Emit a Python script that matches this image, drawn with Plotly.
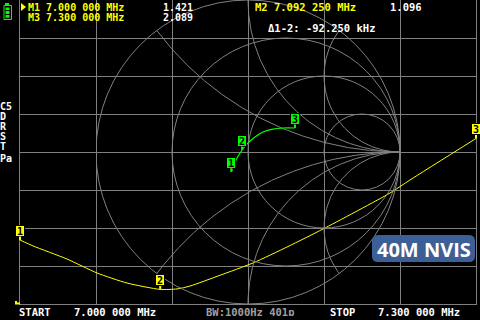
import numpy as np
import plotly.graph_objects as go

W, H = 480, 320

# SWR trace (yellow), frequency in MHz
freq_mhz = [7.000, 7.0086, 7.0309, 7.0507, 7.0704, 7.09225, 7.1033, 7.1118,
            7.1316, 7.1533, 7.1763, 7.1993, 7.2434, 7.2566, 7.300]
swr = [1.421, 1.382, 1.296, 1.204, 1.138, 1.096, 1.099, 1.118,
       1.189, 1.270, 1.378, 1.493, 1.730, 1.816, 2.089]

# Smith chart trace (green), reflection coefficient
gamma_re = [-0.110, -0.072, -0.039, 0.000, 0.046, 0.099, 0.164, 0.230, 0.309]
gamma_im = [-0.130, -0.039, 0.013, 0.059, 0.099, 0.132, 0.151, 0.158, 0.158]

marker_labels = ["1", "2", "3"]
marker_freq = [7.000, 7.09225, 7.300]
marker_swr = [1.421, 1.096, 2.089]
marker_smith_idx = [0, 2, 8]

GRID = "#808080"
YEL = "#ffff00"
GRN = "#00ff00"
MONO = "DejaVu Sans Mono"


def px(x):
    return x / W


def py(y):
    return 1 - y / H


fig = go.Figure()

# ---- Smith chart grid: constant reactance arcs (clipped to unit circle) ----
t = np.linspace(0, 2 * np.pi, 1441)
for xr in [0.5, 1.0, 2.0]:
    for s in [1, -1]:
        cx, cy, r = 1.0, s / xr, 1.0 / xr
        ax_ = cx + r * np.cos(t)
        ay_ = cy + r * np.sin(t)
        m = ax_ ** 2 + ay_ ** 2 <= 1.0 + 1e-9
        ax_ = np.where(m, ax_, np.nan)
        ay_ = np.where(m, ay_, np.nan)
        fig.add_trace(go.Scatter(x=ax_, y=ay_, xaxis="x2", yaxis="y2", mode="lines",
                                 line=dict(color=GRID, width=1), hoverinfo="skip",
                                 showlegend=False, connectgaps=False))

# constant resistance circles
shapes = []
for rr in [0.0, 1 / 3, 1.0, 3.0]:
    c = rr / (1 + rr)
    rad = 1 / (1 + rr)
    shapes.append(dict(type="circle", xref="x2", yref="y2", x0=c - rad, x1=c + rad,
                       y0=-rad, y1=rad, line=dict(color=GRID, width=1), layer="below"))

# ---- traces ----
fig.add_trace(go.Scatter(x=gamma_re, y=gamma_im, xaxis="x2", yaxis="y2", mode="lines",
                         line=dict(color=GRN, width=1.2, shape="spline"),
                         showlegend=False, hoverinfo="skip"))
fig.add_trace(go.Scatter(x=freq_mhz, y=swr, mode="lines",
                         line=dict(color=YEL, width=1, shape="spline", smoothing=0.6),
                         showlegend=False, hoverinfo="skip"))

annotations = []

# markers
for lab, f, s in zip(marker_labels, marker_freq, marker_swr):
    annotations.append(dict(x=f, y=s, xref="x", yref="y", text=lab, showarrow=True,
                            ax=0, ay=-9, arrowhead=0, arrowwidth=2, arrowcolor=YEL,
                            bgcolor=YEL, width=8, height=10, borderpad=0, borderwidth=1,
                            bordercolor="#000000",
                            font=dict(family=MONO, size=10, color="#000000", weight="bold")))
for lab, i in zip(marker_labels, marker_smith_idx):
    annotations.append(dict(x=gamma_re[i], y=gamma_im[i], xref="x2", yref="y2", text=lab,
                            showarrow=True, ax=0, ay=-9, arrowhead=0, arrowwidth=2,
                            arrowcolor=GRN, bgcolor=GRN, width=8, height=10, borderpad=0,
                            borderwidth=1, bordercolor="#000000",
                            font=dict(family=MONO, size=10, color="#000000", weight="bold")))


def txt(s, x, y, color="#ffffff", size=10.5, family=MONO, xanchor="left", h=8):
    annotations.append(dict(x=px(x), y=py(y), xref="paper", yref="paper", text=s,
                            showarrow=False, xanchor=xanchor, yanchor="middle",
                            borderpad=0, borderwidth=0, height=h,
                            font=dict(family=family, size=size, color=color, weight="bold")))


txt("M1 7.000 000 MHz", 28, 7, YEL, size=10)
txt("1.421", 163, 7, size=10)
txt("M3 7.300 000 MHz", 28, 17, YEL, size=10)
txt("2.089", 163, 17, size=10)
txt("M2 7.092 250 MHz", 255, 7, YEL)
txt("1.096", 390, 7)
txt("\u03941-2: -92.250 kHz", 268, 28)

for s, yy in zip(["C5", "D", "R", "S", "T", "Pa"], [105.5, 115.5, 125.5, 136, 146, 158]):
    txt(s, 0, yy, size=10)

txt("START", 19, 311.5)
txt("7.000 000 MHz", 74, 311.5)
txt("BW:1000Hz 401p", 206, 311.5, color="#a0a0a0")
txt("STOP", 330, 311.5)
txt("7.300 000 MHz", 378, 311.5)

# label box
bx0, bx1, by0, by1, rc = 372, 475, 235, 262, 6
path = (f"M {px(bx0 + rc)},{py(by0)} L {px(bx1 - rc)},{py(by0)} "
        f"Q {px(bx1)},{py(by0)} {px(bx1)},{py(by0 + rc)} L {px(bx1)},{py(by1 - rc)} "
        f"Q {px(bx1)},{py(by1)} {px(bx1 - rc)},{py(by1)} L {px(bx0 + rc)},{py(by1)} "
        f"Q {px(bx0)},{py(by1)} {px(bx0)},{py(by1 - rc)} L {px(bx0)},{py(by0 + rc)} "
        f"Q {px(bx0)},{py(by0)} {px(bx0 + rc)},{py(by0)} Z")
shapes.append(dict(type="path", xref="paper", yref="paper", path=path,
                   fillcolor="#3d5f97", line=dict(width=0), layer="above"))
annotations.append(dict(x=px((bx0 + bx1) / 2), y=py((by0 + by1) / 2 + 0.5), xref="paper",
                        yref="paper", text="40M NVIS", showarrow=False, xanchor="center",
                        yanchor="middle", font=dict(family="Open Sans", size=20,
                                                    color="#ffffff", weight="bold")))

# battery icon
def rect(x0, y0, x1, y1, fill=None, line=None):
    d = dict(type="rect", xref="paper", yref="paper", x0=px(x0), x1=px(x1),
             y0=py(y1), y1=py(y0), layer="above")
    d["fillcolor"] = fill if fill else "rgba(0,0,0,0)"
    d["line"] = dict(color=line, width=1) if line else dict(width=0)
    shapes.append(d)


rect(5, 3, 9, 5, fill=GRN)
rect(4, 5.5, 11.5, 19.5, line=GRN)
rect(5.5, 7.5, 9.5, 10, fill=GRN)
rect(5.5, 11, 9.5, 14, fill=GRN)
rect(5.5, 15, 9.5, 17.7, fill=GRN)

# active marker pointer
shapes.append(dict(type="path", xref="paper", yref="paper",
                   path=f"M {px(21)},{py(3)} L {px(26)},{py(7)} L {px(21)},{py(11)} Z",
                   fillcolor=YEL, line=dict(width=0), layer="above"))
# reference level marker (yellow, bottom left)
shapes.append(dict(type="path", xref="paper", yref="paper",
                   path=f"M {px(15)},{py(301)} L {px(17)},{py(301)} L {px(17)},{py(302.5)} "
                        f"L {px(20)},{py(302.5)} L {px(20)},{py(304.5)} L {px(15)},{py(304.5)} Z",
                   fillcolor=YEL, line=dict(width=0), layer="above"))

fig.update_layout(
    width=W, height=H, margin=dict(l=0, r=0, t=0, b=0),
    paper_bgcolor="#000000", plot_bgcolor="rgba(0,0,0,0)",
    xaxis=dict(domain=[20 / W, 476 / W], range=[7.0, 7.3], tick0=7.0, dtick=0.05,
               showgrid=True, gridcolor=GRID, gridwidth=1, zeroline=False,
               showticklabels=False, ticks="", showline=True, mirror=True,
               linecolor=GRID, linewidth=1),
    yaxis=dict(domain=[16 / H, 1], range=[1, 3], tick0=1, dtick=0.25, showgrid=True,
               gridcolor=GRID, gridwidth=1, zeroline=False, showticklabels=False, ticks="",
               showline=True, mirror=True, linecolor=GRID, linewidth=1),
    xaxis2=dict(domain=[96 / W, 400 / W], range=[-1, 1], anchor="y2", visible=False),
    yaxis2=dict(domain=[16 / H, 1], range=[-1, 1], anchor="x2", visible=False),
    shapes=shapes, annotations=annotations, showlegend=False,
)

fig.write_html("out.html")
